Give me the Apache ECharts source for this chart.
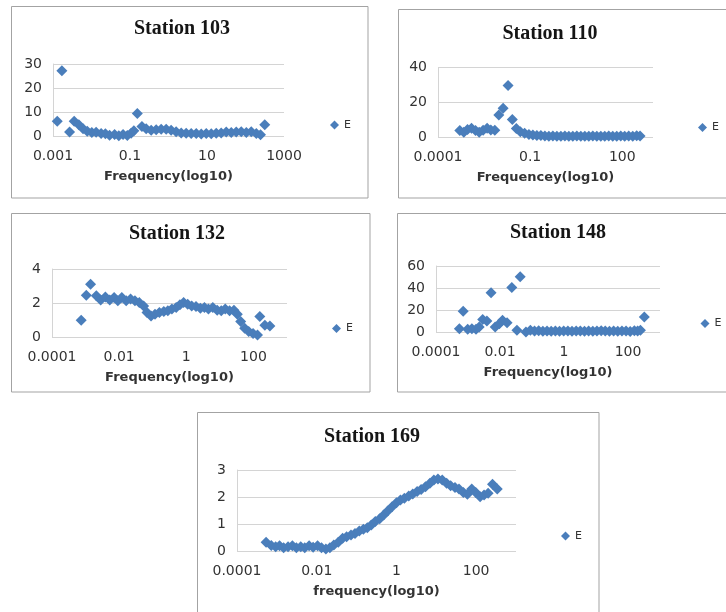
<!DOCTYPE html>
<html>
<head>
<meta charset="utf-8">
<script src="https://cdn.jsdelivr.net/npm/echarts@6/dist/echarts.min.js"></script>
<style>
html,body{margin:0;padding:0;background:#fff;}
#c{width:726px;height:612px;}
</style>
</head>
<body>
<div id="c"></div>
<script>
// ---- data ----
const titles = ['Station 103', 'Station 110', 'Station 132', 'Station 148', 'Station 169'];
const axisNames = ['Frequency(log10)', 'Frequencey(log10)', 'Frequency(log10)', 'Frequency(log10)', 'frequency(log10)'];
const seriesName = 'E';

const st103Freq = [0.00129, 0.0017, 0.00269, 0.00355, 0.00468, 0.00603, 0.00776, 0.0102, 0.0132, 0.0178, 0.0229, 0.0295, 0.0398, 0.0513, 0.0661, 0.0851, 0.107, 0.126, 0.155, 0.204, 0.263, 0.355, 0.479, 0.646, 0.871, 1.17, 1.58, 2.14, 2.88, 3.89, 5.25, 7.08, 9.55, 12.9, 17.4, 23.4, 31.6, 42.7, 57.5, 77.6, 105, 141, 191, 245, 316];
const st103E = [6.1, 27.2, 1.7, 6.1, 4.7, 3.0, 2.0, 1.5, 1.6, 1.0, 0.9, 0.3, 0.6, 0.1, 0.6, 0.2, 1.1, 2.2, 9.4, 4.0, 3.0, 2.4, 2.6, 2.8, 2.8, 2.4, 1.8, 1.2, 1.1, 1.0, 1.0, 0.8, 1.0, 0.9, 1.1, 1.3, 1.7, 1.5, 1.7, 1.8, 1.5, 1.8, 1.0, 0.5, 4.7];

const st110Freq = [0.000513, 0.000692, 0.000912, 0.00123, 0.00166, 0.00219, 0.00295, 0.00398, 0.00525, 0.00708, 0.00955, 0.0132, 0.0191, 0.0263, 0.0355, 0.0479, 0.0661, 0.0912, 0.123, 0.166, 0.224, 0.302, 0.407, 0.55, 0.741, 1.0, 1.35, 1.82, 2.45, 3.31, 4.47, 6.03, 8.13, 11.0, 14.8, 20.0, 26.9, 36.3, 49.0, 66.1, 89.1, 120, 162, 219, 295, 380];
const st110E = [3.7, 2.7, 4.3, 5.0, 3.7, 2.7, 3.9, 5.0, 4.0, 3.9, 12.6, 16.6, 29.7, 10.1, 4.9, 3.0, 2.1, 1.5, 1.1, 0.9, 0.8, 0.6, 0.5, 0.6, 0.4, 0.5, 0.6, 0.4, 0.5, 0.6, 0.4, 0.5, 0.4, 0.6, 0.5, 0.4, 0.5, 0.6, 0.4, 0.5, 0.6, 0.4, 0.6, 0.5, 0.7, 0.6];

const st132Freq = [0.000741, 0.00105, 0.00141, 0.00209, 0.00282, 0.00389, 0.00525, 0.00708, 0.00912, 0.012, 0.0162, 0.0219, 0.0295, 0.0398, 0.0537, 0.0676, 0.0891, 0.117, 0.158, 0.214, 0.282, 0.372, 0.501, 0.646, 0.832, 1.10, 1.45, 1.95, 2.63, 3.47, 4.57, 6.17, 8.32, 11.0, 14.5, 19.5, 26.3, 33.1, 41.7, 55.0, 72.4, 97.7, 132, 155, 219, 309];
const st132E = [0.99, 2.46, 3.11, 2.42, 2.17, 2.36, 2.17, 2.33, 2.13, 2.33, 2.13, 2.23, 2.13, 2.03, 1.83, 1.44, 1.24, 1.34, 1.44, 1.50, 1.54, 1.64, 1.73, 1.89, 2.03, 1.93, 1.83, 1.79, 1.69, 1.73, 1.64, 1.73, 1.58, 1.54, 1.64, 1.54, 1.58, 1.34, 0.91, 0.51, 0.32, 0.20, 0.12, 1.20, 0.69, 0.65];

const st148Freq = [0.000537, 0.000708, 0.000977, 0.00132, 0.00178, 0.00224, 0.00288, 0.00389, 0.00525, 0.00708, 0.00955, 0.012, 0.0166, 0.0234, 0.0339, 0.0427, 0.0646, 0.0891, 0.12, 0.162, 0.219, 0.295, 0.398, 0.537, 0.724, 0.977, 1.32, 1.78, 2.40, 3.24, 4.37, 5.89, 7.94, 10.7, 14.5, 19.5, 26.3, 35.5, 47.9, 64.6, 87.1, 117, 158, 200, 245, 324];
const st148E = [3.0, 18.9, 2.4, 3.0, 2.4, 4.6, 11.3, 10.0, 35.6, 4.6, 7.6, 10.7, 8.5, 40.5, 1.5, 50.2, 0.0, 1.5, 0.8, 1.2, 0.6, 1.0, 0.7, 0.9, 0.6, 1.0, 0.8, 0.7, 0.9, 1.0, 0.7, 0.8, 0.6, 0.9, 1.1, 0.8, 0.7, 0.9, 0.6, 1.0, 0.8, 0.5, 1.2, 0.9, 1.5, 13.7];

const st169Freq = [0.000537, 0.000724, 0.000933, 0.00117, 0.00148, 0.00191, 0.00245, 0.00309, 0.00398, 0.00501, 0.00646, 0.00813, 0.0105, 0.0132, 0.017, 0.0214, 0.0269, 0.0347, 0.0447, 0.0562, 0.0724, 0.0912, 0.117, 0.148, 0.186, 0.234, 0.295, 0.38, 0.479, 0.603, 0.776, 1.0, 1.26, 1.58, 2.04, 2.57, 3.31, 4.17, 5.37, 6.92, 8.71, 11.0, 14.1, 18.2, 22.9, 29.5, 37.2, 47.9, 60.3, 77.6, 97.7, 126, 158, 200, 257, 339];
const st169E = [0.32, 0.20, 0.16, 0.19, 0.12, 0.16, 0.19, 0.12, 0.16, 0.12, 0.19, 0.14, 0.19, 0.12, 0.07, 0.12, 0.22, 0.32, 0.47, 0.53, 0.59, 0.65, 0.74, 0.81, 0.86, 0.96, 1.09, 1.19, 1.33, 1.48, 1.64, 1.79, 1.89, 1.95, 2.04, 2.11, 2.20, 2.28, 2.38, 2.51, 2.63, 2.67, 2.63, 2.51, 2.42, 2.35, 2.30, 2.17, 2.10, 2.30, 2.17, 2.01, 2.07, 2.14, 2.47, 2.30];

// axis ranges and labelled decades (tick labels)
const xMin = [0.001, 0.0001, 0.0001, 0.0001, 0.0001];
const xMax = [1000, 1000, 1000, 1000, 1000];
const xLabels = [
  ['0.001', '0.1', '10', '1000'],
  ['0.0001', '0.1', '100'],
  ['0.0001', '0.01', '1', '100'],
  ['0.0001', '0.01', '1', '100'],
  ['0.0001', '0.01', '1', '100']
];
const yMax = [30, 40, 4, 60, 3];
const yStep = [10, 20, 2, 20, 1];

const freqs = [st103Freq, st110Freq, st132Freq, st148Freq, st169Freq];
const values = [st103E, st110E, st132E, st148E, st169E];

// ---- layout (pixels) ----
const grids = [
  {left: 53, top: 64, width: 231, height: 72},
  {left: 438, top: 67.5, width: 215, height: 69.5},
  {left: 52, top: 269, width: 235, height: 68},
  {left: 436, top: 266, width: 224, height: 66},
  {left: 237, top: 470, width: 279, height: 81}
];
const titlePos = [[182, 19], [550, 24], [177, 224], [558, 223], [372, 427]];
const legendPos = [[330, 119.5], [698, 122], [332, 323], [700.5, 318], [561, 530.5]];
const frames = [
  [11.5, 6.5, 356.5, 191.5],
  [398.5, 9.5, 340, 188.5],
  [11.5, 213.5, 358.5, 178.5],
  [397.5, 213.5, 340, 178.5],
  [197.5, 412.5, 401.5, 210]
];

const gridColor = '#d4d4d4';
const markColor = '#4a7ebb';
const labelFont = 'DejaVu Sans';

const option = {
  animation: false,
  backgroundColor: '#ffffff',
  title: titles.map((t, i) => ({
    text: t, left: titlePos[i][0], top: titlePos[i][1], textAlign: 'center', padding: 0,
    textStyle: {fontFamily: 'Liberation Serif', fontWeight: 'bold', fontSize: 20, color: '#151515'}
  })),
  legend: legendPos.map(p => ({
    data: [seriesName], left: p[0], top: p[1], padding: 0, orient: 'vertical',
    icon: 'diamond', itemWidth: 9, itemHeight: 9, selectedMode: false,
    itemStyle: {opacity: 1},
    textStyle: {fontFamily: labelFont, fontSize: 11, color: '#333'}
  })),
  grid: grids.map(g => Object.assign({containLabel: false, outerBoundsMode: 'none'}, g)),
  xAxis: grids.map((g, i) => ({
    type: 'log', logBase: 10, gridIndex: i, min: xMin[i], max: xMax[i],
    name: axisNames[i], nameLocation: 'middle', nameGap: 34,
    nameTextStyle: {fontFamily: labelFont, fontWeight: 'bold', fontSize: 13, color: '#333'},
    axisLine: {show: false}, axisTick: {show: false}, splitLine: {show: false}, minorTick: {show: false},
    axisLabel: {
      margin: 13, fontFamily: labelFont, fontSize: 14, color: '#333',
      showMinLabel: true, showMaxLabel: true,
      formatter: function (v) {
        const s = String(Number(v.toPrecision(6)));
        return xLabels[i].indexOf(s) >= 0 ? s : '';
      }
    }
  })),
  yAxis: grids.map((g, i) => ({
    type: 'value', gridIndex: i, min: 0, max: yMax[i], interval: yStep[i],
    axisLine: {show: true, lineStyle: {color: gridColor}}, axisTick: {show: false},
    splitLine: {show: true, lineStyle: {color: gridColor, width: 1}},
    axisLabel: {margin: 11, fontFamily: labelFont, fontSize: 14, color: '#333'}
  })),
  series: freqs.map((f, i) => ({
    type: 'scatter', name: seriesName, xAxisIndex: i, yAxisIndex: i,
    symbol: 'diamond', symbolSize: 11,
    itemStyle: {color: markColor, opacity: 1},
    data: f.map((x, k) => [x, values[i][k]])
  })),
  graphic: frames.map(r => ({
    type: 'rect', silent: true, z: -1,
    shape: {x: r[0], y: r[1], width: r[2], height: r[3]},
    style: {fill: null, stroke: '#a3a3a3', lineWidth: 1}
  }))
};

const chart = echarts.init(document.getElementById('c'), null, {renderer: 'canvas'});
chart.setOption(option);
</script>
</body>
</html>
